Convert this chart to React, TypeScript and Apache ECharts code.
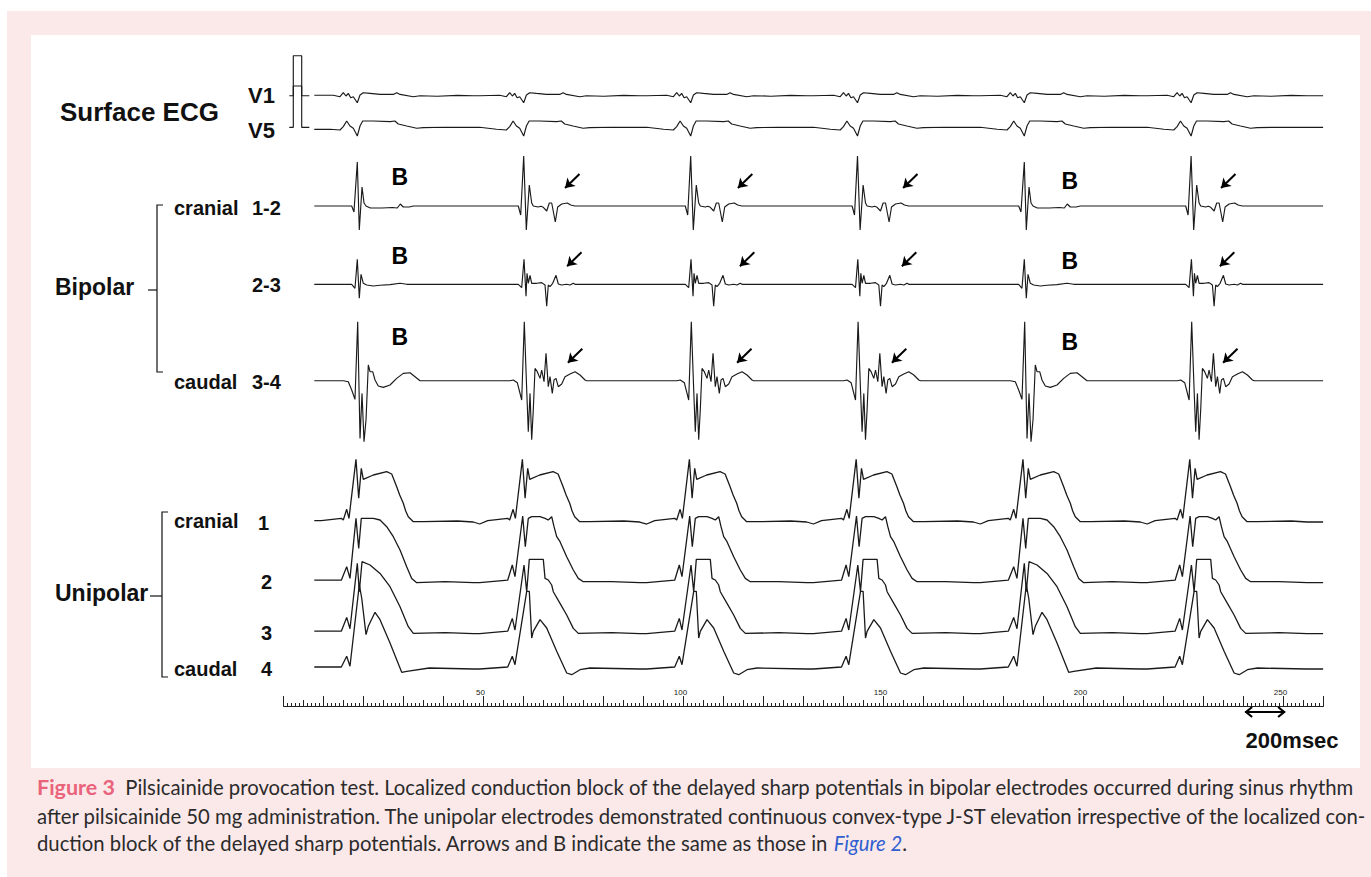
import React, { useEffect, useRef } from "react";
import * as echarts from "echarts";

type Pt = [number, number];

// Time on the recorder ruler (1 unit = 20 ms). Beat reference = sharp bipolar spike.
const beatTimes = [18.45, 60.05, 101.8, 143.5, 185.2, 226.9];
const blockedBeats = [0, 4]; // beats marked "B" (block of delayed potentials)
const traceStart = 7.7;
const traceEnd = 259.9;
const rulerLabels = [50, 100, 150, 200, 250];

// channel baselines (display units, 1 unit ~ 1 px)
const channelLabels = ["V1", "V5", "1-2", "2-3", "3-4", "1", "2", "3", "4"];
const channelBaselines = [610.3, 578.7, 500, 421.7, 325.3, 185, 124.3, 73.3, 38];

// calibration pulses of the surface ECG
const calX = [1.45, 2.45, 4.55, 6.45];
const calHeights = [40, 41.3];

// beat templates: [time offset from beat (units), amplitude]
const v1Beat: Pt[] = [[-11, 0], [-6, 0.5], [-4.33, -1], [-3.5, 3], [-2.83, -0.3], [-2.25, 2.3], [-1.65, -2], [-1, -1], [0, -7], [0.68, 0.7], [1.5, 3], [3.2, 2.3], [5.7, 1.3], [9, 1.3], [9.85, 3], [10.7, 1.3], [14, -1], [15.7, 0], [20, -0.5], [25, 0.3], [29, 0]];
const v5Beat: Pt[] = [[-11, 0], [-6.8, -2], [-4.33, -2.7], [-3.5, 0.7], [-2.65, 6.3], [-1.83, 1.3], [-1, -1], [0, -8.7], [0.68, 1.3], [1.35, 6.3], [4, 6.3], [8.2, 5.7], [9.4, 6.3], [10.25, 3.3], [12.35, 1.3], [14.85, -1], [16.5, -0.3], [22, 0], [29, 0]];

const bip12Conducted: Pt[] = [[-11, 0], [-1.35, 0], [-0.75, -9], [0, 50], [0.65, -24], [1.4, 21], [2, 3], [2.4, 0], [3.65, -1], [4.3, -0.3], [4.9, -1.3], [5.75, -5], [6.4, 3], [7, 3], [7.9, -16], [8.5, -1], [9.5, 2], [10.9, 3], [11.75, 1], [12.8, 0], [29, 0]];
const bip12Blocked: Pt[] = [[-11, 0], [-1.4, 0], [-0.83, -6], [0, 44], [0.5, -24], [1.18, 19], [1.68, 3], [2.18, 0], [3.25, -2], [6.25, -2], [8.75, -1.5], [10, -2], [10.75, 2], [11.5, -1], [13, -1], [14, 0], [29, 0]];

const bip23Conducted: Pt[] = [[-11, 0], [-1.35, 0], [-0.5, -3.3], [0.08, 25], [0.58, -12], [0.83, 11], [1.15, 1], [1.58, 9], [2, 1], [3.25, 1], [4.5, 1.7], [5.33, -0.7], [5.75, -22], [6.15, -0.7], [6.58, -2.3], [7.25, 1], [8.08, 9], [8.65, 0.3], [9.5, -0.7], [10.75, 0], [11.58, -0.7], [12.4, 1], [12.83, 0], [29, 0]];
const bip23Blocked: Pt[] = [[-11, 0], [-1.4, 0], [-0.58, -4], [0, 25], [0.5, -14], [0.93, 10], [1.5, 1], [2.35, -0.7], [4, -1.7], [5.68, -1], [8.18, -0.3], [10.68, 1], [12.35, 0], [29, 0]];

const bip34Conducted: Pt[] = [[-11, 0], [-3.43, 0], [-2.6, 0.7], [-1.6, -2], [-0.5, -19.3], [0.15, 59], [0.75, -9], [1.15, -51], [1.58, -12.7], [2, -59], [2.4, -29], [2.83, 12.3], [3.4, 9], [4.08, 2.3], [4.5, 10.7], [5.08, -1], [5.58, 27.3], [6.15, -6], [6.58, 4], [7.15, -12.7], [7.58, 0.7], [8.08, 2.3], [8.65, -6], [9.5, -3.3], [10.33, 4], [11.58, 6.7], [12.83, 9], [14.08, 5.7], [15.33, 0.7], [15.75, 0], [29, 0]];
const bip34Blocked: Pt[] = [[-11, 0], [-3.5, 0], [-2.25, -1], [-1.4, -9.3], [-0.58, -18.7], [0.1, 59], [0.68, -57.7], [1.18, -12.7], [1.68, -61], [2.18, -39], [2.75, 15.7], [3.18, 9], [3.85, 9], [4.43, 0.7], [5.25, -5.3], [6.5, -6.7], [8.18, -4.3], [9.85, 2.3], [11.5, 7.3], [13.18, 8], [14.43, 4], [15.68, 0], [29, 0]];

const uni1Beat: Pt[] = [[-11, -3], [-9, 0.3], [-4, 2.7], [-3.5, 1], [-2.65, 11.7], [-2.08, 2.7], [-0.33, 61.7], [0.35, 22.7], [1, 52.7], [1.5, 41.7], [4, 46], [7.35, 49.3], [8.6, 47], [9.85, 34.3], [10.6, 26], [11.5, 17.7], [12.1, 10], [12.75, 4.3], [14, -0.7], [16.5, -0.7], [25, 0], [29, -1]];
const uni2Conducted: Pt[] = [[-11, -1], [-4, 1.5], [-2.85, 16.7], [-2.18, 5], [-0.25, 65.7], [0.4, 35], [1.15, 63.3], [2, 65], [4.08, 65], [5.33, 63.3], [6.15, 61.7], [7, 65], [7.58, 55], [8.25, 45], [9.08, 40], [10.75, 25], [12.4, 11.7], [13.65, 3.3], [14.9, 0], [22, 0], [29, -1]];
const uni2Blocked: Pt[] = [[-11, -1], [-4, 1.5], [-2.65, 15], [-1.83, 3.3], [-0.33, 63.3], [0.35, 33.3], [1, 63.3], [1.5, 63.3], [4, 63.3], [5.68, 61.7], [7.35, 55], [9, 45], [10.68, 31.7], [12.35, 15], [13.6, 3.3], [14.85, -1], [22, 0], [29, -1]];
const uni3Conducted: Pt[] = [[-11, -1], [-4, 1.5], [-2.85, 14.3], [-2.18, 2.7], [0.08, 67.7], [0.75, 41], [1.4, 73.3], [4.9, 73.3], [5.33, 54.3], [6.15, 52.7], [7, 47.7], [7.4, 41], [9.08, 29.3], [10.75, 17.7], [12.4, 4.3], [13.65, -0.7], [22, 0], [29, -1]];
const uni3Blocked: Pt[] = [[-11, -1], [-4, 1.5], [-2.65, 15.3], [-1.83, 4], [0, 69.3], [0.5, 41], [1.18, 71], [3.18, 67.7], [5.68, 59.3], [8.18, 46], [10.68, 26], [12.75, 6], [14, -0.7], [22, 0], [29, -1]];
const uni4Conducted: Pt[] = [[-11, -1], [-4, 1], [-2.85, 11.7], [-2.18, 3.3], [0.75, 76.7], [1.4, 76.7], [2, 30], [2.4, 36.7], [4.08, 48.3], [5.75, 40], [8.25, 16.7], [10.75, -5], [12, -6.7], [14.08, -1.7], [16.58, 0], [29, -1]];
const uni4Blocked: Pt[] = [[-11, -1], [-4, 1], [-2.65, 11.7], [-1.83, 1.7], [0.5, 83.3], [1.1, 70], [2.18, 33.3], [2.75, 41.7], [4.43, 55.7], [5.68, 48.3], [8.18, 25], [9.85, 8.3], [11.1, -4.3], [12.35, -3.3], [18, 0], [29, -1]];

// annotations: arrow tips (x units) for bipolar rows, "B" label positions
const arrowChannels = [2, 3, 4];
const arrowTipX = [
  [70.4, 113.6, 154.9, 234.4],
  [70.9, 114.1, 154.6, 234.1],
  [71.1, 113.4, 152.1, 234.9],
];
const arrowRise = 18;
const bLabelX = [29.1, 196.6];
const bLabelRise = [[29, 25], [28, 23], [44, 39]];

// scale bar (10 units = 200 ms)
const scaleBarStart = 240.4;
const scaleBarUnits = 10;

const captionLines = [
  "{fig|Figure 3}  Pilsicainide provocation test. Localized conduction block of the delayed sharp potentials in bipolar electrodes occurred during sinus rhythm",
  "after pilsicainide 50 mg administration. The unipolar electrodes demonstrated continuous convex-type J-ST elevation irrespective of the localized con-",
  "duction block of the delayed sharp potentials. Arrows and B indicate the same as those in {link|Figure 2}.",
];

const templates: [Pt[], Pt[]][] = [
  [v1Beat, v1Beat],
  [v5Beat, v5Beat],
  [bip12Conducted, bip12Blocked],
  [bip23Conducted, bip23Blocked],
  [bip34Conducted, bip34Blocked],
  [uni1Beat, uni1Beat],
  [uni2Conducted, uni2Blocked],
  [uni3Conducted, uni3Blocked],
  [uni4Conducted, uni4Blocked],
];

function buildTrace(base: number, conducted: Pt[], blocked: Pt[]): Pt[] {
  const pts: Pt[] = [];
  beatTimes.forEach((t, i) => {
    const tpl = blockedBeats.includes(i) ? blocked : conducted;
    tpl.forEach(([dt, a]) => {
      const x = t + dt;
      if (x > traceStart && x < traceEnd) pts.push([+x.toFixed(3), base + a]);
    });
  });
  return [[traceStart, pts[0][1]], ...pts, [traceEnd, pts[pts.length - 1][1]]];
}

const LABEL_FONT = "'Liberation Sans', Arial, sans-serif";
const CAPTION_FONT = "Lato, 'Open Sans', sans-serif";

export default function App() {
  const ref = useRef<HTMLDivElement>(null);
  useEffect(() => {
    const chart = echarts.init(ref.current!, null, { renderer: "svg" });
    const lineStyleFor = (i: number) => ({ color: "#1a1a1a", width: i >= 5 ? 1.3 : 1.15 });
    const series: any[] = templates.map(([c, b], i) => ({
      type: "line",
      name: channelLabels[i],
      data: buildTrace(channelBaselines[i], c, b),
      showSymbol: false,
      symbol: "none",
      silent: true,
      lineStyle: lineStyleFor(i),
    }));
    calHeights.forEach((h, i) => {
      const b = channelBaselines[i];
      series.push({
        type: "line",
        name: "cal " + channelLabels[i],
        data: [[calX[0], b], [calX[1], b], [calX[1], b + h], [calX[2], b + h], [calX[2], b], [calX[3], b]],
        showSymbol: false,
        symbol: "none",
        silent: true,
        lineStyle: { color: "#1a1a1a", width: 1.15 },
      });
    });
    const arrowData: any[] = [];
    arrowChannels.forEach((ch, r) => {
      arrowTipX[r].forEach((x) => {
        const tipY = channelBaselines[ch] + arrowRise;
        arrowData.push({ coords: [[x + 3.6, tipY + 14], [x, tipY]] });
      });
    });
    series.push({
      type: "lines",
      coordinateSystem: "cartesian2d",
      data: arrowData,
      symbol: ["none", "arrow"],
      symbolSize: 9,
      silent: true,
      lineStyle: { color: "#000", width: 2, opacity: 1 },
    });

    const option: any = {
      animation: false,
      backgroundColor: "#ffffff",
      grid: { left: 283.5, width: 1040, top: 40, height: 666, containLabel: false },
      xAxis: [
        {
          type: "value",
          min: 0,
          max: 260,
          interval: 10,
          position: "bottom",
          axisLine: { show: true, onZero: false, lineStyle: { color: "#222", width: 1 } },
          axisTick: { show: true, inside: true, length: 10, lineStyle: { color: "#222", width: 1 } },
          minorTick: { show: true, splitNumber: 10, length: 3, lineStyle: { color: "#222", width: 1 } },
          axisLabel: {
            show: true,
            inside: true,
            margin: 10,
            fontSize: 8,
            color: "#222",
            fontFamily: LABEL_FONT,
            padding: [0, 6, 0, 0],
            formatter: (v: number) => (rulerLabels.includes(v) ? String(v) : ""),
          },
          splitLine: { show: false },
          minorSplitLine: { show: false },
        },
        {
          type: "value",
          min: 0,
          max: 260,
          interval: 5,
          position: "bottom",
          axisLine: { show: false, onZero: false },
          axisTick: { show: true, inside: true, length: 6, lineStyle: { color: "#222", width: 1 } },
          axisLabel: { show: false },
          splitLine: { show: false },
        },
      ],
      yAxis: { type: "value", min: 0, max: 666, show: false, splitLine: { show: false } },
      series,
    };
    chart.setOption(option);

    const px = (x: number, y: number) => chart.convertToPixel({ gridIndex: 0 }, [x, y]) as number[];
    const by = (i: number) => px(0, channelBaselines[i])[1];
    const txt = (text: string, x: number, y: number, size: number, extra: any = {}) => ({
      type: "text",
      x,
      y,
      z: 10,
      style: {
        text,
        fill: "#111",
        fontSize: size,
        fontWeight: "bold",
        fontFamily: LABEL_FONT,
        verticalAlign: "middle",
        align: "left",
        ...extra,
      },
    });
    const bTexts: any[] = [];
    arrowChannels.forEach((ch, r) => {
      bLabelX.forEach((x, k) => {
        const p = px(x, channelBaselines[ch] + bLabelRise[r][k]);
        bTexts.push(txt("B", p[0], p[1], 23, { align: "center", fill: "#000" }));
      });
    });
    const sx0 = px(scaleBarStart, 0)[0];
    const sx1 = px(scaleBarStart + scaleBarUnits, 0)[0];
    const sy = px(0, 0)[1] + 6;
    const capStyle = { fill: "#2b2b2b", fontSize: 20.3, fontFamily: CAPTION_FONT, verticalAlign: "middle", align: "left" };
    const capRich = {
      fig: { fill: "#e9637a", fontWeight: "bold", fontSize: 21.5, fontFamily: CAPTION_FONT },
      link: { fill: "#2f5fd0", fontStyle: "italic", fontSize: 20.3, fontFamily: CAPTION_FONT },
    };
    const graphic: any[] = [
      { type: "rect", z: -10, shape: { x: 7, y: 11, width: 1364, height: 866 }, style: { fill: "#fbe9ea" }, silent: true },
      { type: "rect", z: -9, shape: { x: 31, y: 35, width: 1329, height: 733 }, style: { fill: "#ffffff" }, silent: true },
      txt("Surface ECG", 60, 112, 26),
      txt("V1", 248, by(0), 22),
      txt("V5", 248, by(1) + 3, 22),
      txt("cranial", 174, by(2) + 2, 20),
      txt("1-2", 252, by(2) + 2, 20),
      txt("2-3", 252, by(3) + 1, 20),
      txt("caudal", 174, by(4) + 1, 20),
      txt("3-4", 252, by(4) + 1, 20),
      txt("Bipolar", 55, by(3) + 3, 23),
      txt("cranial", 174, by(5), 20),
      txt("1", 258, by(5) + 2, 20),
      txt("2", 261, by(6), 20),
      txt("3", 261, by(7), 20),
      txt("caudal", 174, by(8) + 1, 20),
      txt("4", 261, by(8) + 1, 20),
      txt("Unipolar", 55, 593, 23),
      ...bTexts,
      { type: "polyline", z: 10, shape: { points: [[163, 205], [157, 205], [157, 372], [163, 372]] }, style: { stroke: "#111", lineWidth: 1.2, fill: null } },
      { type: "line", z: 10, shape: { x1: 148, y1: 290, x2: 157, y2: 290 }, style: { stroke: "#111", lineWidth: 1.2 } },
      { type: "polyline", z: 10, shape: { points: [[168, 512], [162, 512], [162, 677], [168, 677]] }, style: { stroke: "#111", lineWidth: 1.2, fill: null } },
      { type: "line", z: 10, shape: { x1: 150, y1: 596, x2: 162, y2: 596 }, style: { stroke: "#111", lineWidth: 1.2 } },
      { type: "line", z: 10, shape: { x1: sx0, y1: sy, x2: sx1, y2: sy }, style: { stroke: "#000", lineWidth: 2 } },
      { type: "polyline", z: 10, shape: { points: [[sx0 + 7, sy - 5], [sx0 + 1, sy], [sx0 + 7, sy + 5]] }, style: { stroke: "#000", lineWidth: 2.2, fill: null } },
      { type: "polyline", z: 10, shape: { points: [[sx1 - 7, sy - 5], [sx1 - 1, sy], [sx1 - 7, sy + 5]] }, style: { stroke: "#000", lineWidth: 2.2, fill: null } },
      txt("200msec", (sx0 + sx1) / 2 + 27, 740, 22, { align: "center" }),
      ...captionLines.map((line, i) => ({
        type: "text",
        x: 37,
        y: [787, 816, 843][i],
        z: 10,
        style: { text: line, rich: capRich, ...capStyle },
      })),
    ];
    chart.setOption({ graphic });
    return () => chart.dispose();
  }, []);
  return <div ref={ref} style={{ position: "fixed", left: 0, top: 0, width: 1371, height: 877 }} />;
}
